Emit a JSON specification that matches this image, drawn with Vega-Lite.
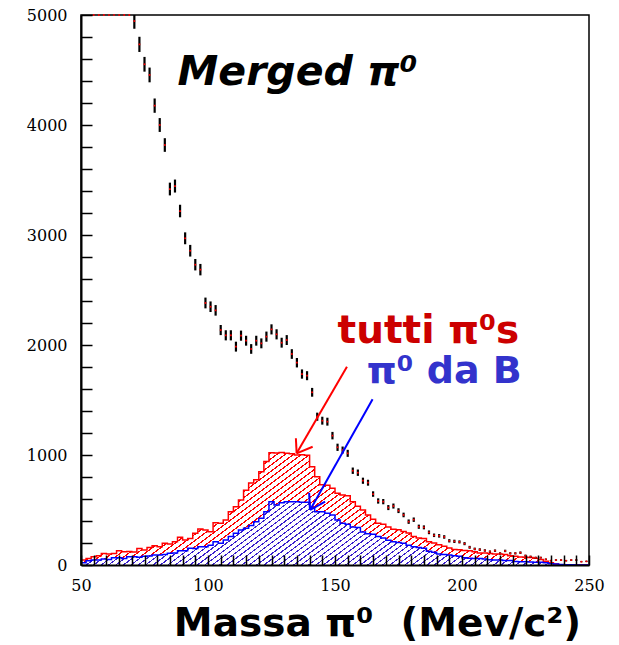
{
"$schema": "https://vega.github.io/schema/vega-lite/v6.json",
"width": 508,
"height": 550,
"autosize": "none",
"padding": {"left": 81, "top": 15, "right": 30, "bottom": 80},
"background": "white",
"config": {"view": {"stroke": "black", "strokeWidth": 1.5}},
"datasets": {
"tutti": [{"x":50,"n":45},{"x":52,"n":60},{"x":54,"n":75},{"x":56,"n":85},{"x":58,"n":105},{"x":60,"n":100},{"x":62,"n":105},{"x":64,"n":130},{"x":66,"n":120},{"x":68,"n":122},{"x":70,"n":118},{"x":72,"n":150},{"x":74,"n":136},{"x":76,"n":158},{"x":78,"n":176},{"x":80,"n":165},{"x":82,"n":197},{"x":84,"n":190},{"x":86,"n":212},{"x":88,"n":252},{"x":90,"n":228},{"x":92,"n":242},{"x":94,"n":288},{"x":96,"n":327},{"x":98,"n":318},{"x":100,"n":303},{"x":102,"n":385},{"x":104,"n":380},{"x":106,"n":409},{"x":108,"n":485},{"x":110,"n":530},{"x":112,"n":590},{"x":114,"n":680},{"x":116,"n":745},{"x":118,"n":775},{"x":120,"n":848},{"x":122,"n":940},{"x":124,"n":1020},{"x":126,"n":1018},{"x":128,"n":1022},{"x":130,"n":1015},{"x":132,"n":1012},{"x":134,"n":1000},{"x":136,"n":1002},{"x":138,"n":998},{"x":140,"n":894},{"x":142,"n":803},{"x":144,"n":730},{"x":146,"n":725},{"x":148,"n":697},{"x":150,"n":652},{"x":152,"n":636},{"x":154,"n":630},{"x":156,"n":576},{"x":158,"n":535},{"x":160,"n":500},{"x":162,"n":455},{"x":164,"n":415},{"x":166,"n":380},{"x":168,"n":370},{"x":170,"n":345},{"x":172,"n":325},{"x":174,"n":320},{"x":176,"n":305},{"x":178,"n":290},{"x":180,"n":260},{"x":182,"n":245},{"x":184,"n":240},{"x":186,"n":212},{"x":188,"n":200},{"x":190,"n":185},{"x":192,"n":170},{"x":194,"n":155},{"x":196,"n":140},{"x":198,"n":138},{"x":200,"n":132},{"x":202,"n":130},{"x":204,"n":120},{"x":206,"n":110},{"x":208,"n":108},{"x":210,"n":105},{"x":212,"n":100},{"x":214,"n":100},{"x":216,"n":95},{"x":218,"n":85},{"x":220,"n":80},{"x":222,"n":72},{"x":224,"n":70},{"x":226,"n":68},{"x":228,"n":62},{"x":230,"n":50},{"x":232,"n":35},{"x":234,"n":20},{"x":236,"n":8},{"x":238,"n":3},{"x":240,"n":0},{"x":242,"n":0},{"x":244,"n":0},{"x":246,"n":0},{"x":248,"n":0},{"x":250,"n":0}],
"daB": [{"x":50,"n":21},{"x":52,"n":39},{"x":54,"n":45},{"x":56,"n":45},{"x":58,"n":55},{"x":60,"n":50},{"x":62,"n":67},{"x":64,"n":67},{"x":66,"n":60},{"x":68,"n":76},{"x":70,"n":76},{"x":72,"n":70},{"x":74,"n":80},{"x":76,"n":82},{"x":78,"n":91},{"x":80,"n":91},{"x":82,"n":95},{"x":84,"n":106},{"x":86,"n":110},{"x":88,"n":130},{"x":90,"n":130},{"x":92,"n":152},{"x":94,"n":150},{"x":96,"n":167},{"x":98,"n":167},{"x":100,"n":180},{"x":102,"n":212},{"x":104,"n":197},{"x":106,"n":227},{"x":108,"n":258},{"x":110,"n":288},{"x":112,"n":318},{"x":114,"n":333},{"x":116,"n":360},{"x":118,"n":394},{"x":120,"n":424},{"x":122,"n":485},{"x":124,"n":576},{"x":126,"n":545},{"x":128,"n":567},{"x":130,"n":576},{"x":132,"n":576},{"x":134,"n":576},{"x":136,"n":570},{"x":138,"n":570},{"x":140,"n":515},{"x":142,"n":485},{"x":144,"n":485},{"x":146,"n":470},{"x":148,"n":455},{"x":150,"n":409},{"x":152,"n":379},{"x":154,"n":370},{"x":156,"n":345},{"x":158,"n":340},{"x":160,"n":300},{"x":162,"n":285},{"x":164,"n":280},{"x":166,"n":258},{"x":168,"n":245},{"x":170,"n":225},{"x":172,"n":212},{"x":174,"n":205},{"x":176,"n":197},{"x":178,"n":180},{"x":180,"n":167},{"x":182,"n":160},{"x":184,"n":152},{"x":186,"n":125},{"x":188,"n":115},{"x":190,"n":100},{"x":192,"n":95},{"x":194,"n":90},{"x":196,"n":85},{"x":198,"n":80},{"x":200,"n":65},{"x":202,"n":62},{"x":204,"n":60},{"x":206,"n":60},{"x":208,"n":55},{"x":210,"n":48},{"x":212,"n":45},{"x":214,"n":45},{"x":216,"n":42},{"x":218,"n":40},{"x":220,"n":32},{"x":222,"n":30},{"x":224,"n":30},{"x":226,"n":28},{"x":228,"n":25},{"x":230,"n":25},{"x":232,"n":20},{"x":234,"n":12},{"x":236,"n":8},{"x":238,"n":5},{"x":240,"n":3},{"x":242,"n":2},{"x":244,"n":1},{"x":246,"n":0},{"x":248,"n":0},{"x":250,"n":0}],
"punti": [{"x":55,"n":6900,"err":83},{"x":57,"n":6500,"err":81},{"x":59,"n":6100,"err":78},{"x":61,"n":5800,"err":76},{"x":63,"n":5550,"err":74},{"x":65,"n":5350,"err":73},{"x":67,"n":5200,"err":72},{"x":69,"n":5080,"err":71},{"x":71,"n":4945,"err":70},{"x":73,"n":4733,"err":69},{"x":75,"n":4552,"err":67},{"x":77,"n":4455,"err":67},{"x":79,"n":4176,"err":65},{"x":81,"n":4000,"err":63},{"x":83,"n":3818,"err":62},{"x":85,"n":3418,"err":58},{"x":87,"n":3445,"err":59},{"x":89,"n":3218,"err":57},{"x":91,"n":2970,"err":54},{"x":93,"n":2857,"err":53},{"x":95,"n":2730,"err":52},{"x":97,"n":2685,"err":52},{"x":99,"n":2382,"err":49},{"x":101,"n":2348,"err":48},{"x":103,"n":2315,"err":48},{"x":105,"n":2136,"err":46},{"x":107,"n":2088,"err":46},{"x":109,"n":2088,"err":46},{"x":111,"n":1985,"err":45},{"x":113,"n":2085,"err":46},{"x":115,"n":2039,"err":45},{"x":117,"n":1964,"err":44},{"x":119,"n":2039,"err":45},{"x":121,"n":2015,"err":45},{"x":123,"n":2076,"err":46},{"x":125,"n":2142,"err":46},{"x":127,"n":2097,"err":46},{"x":129,"n":2021,"err":45},{"x":131,"n":2045,"err":45},{"x":133,"n":1918,"err":44},{"x":135,"n":1839,"err":43},{"x":137,"n":1736,"err":42},{"x":139,"n":1721,"err":41},{"x":141,"n":1570,"err":40},{"x":143,"n":1348,"err":37},{"x":145,"n":1312,"err":36},{"x":147,"n":1303,"err":36},{"x":149,"n":1176,"err":34},{"x":151,"n":1070,"err":33},{"x":153,"n":1045,"err":32},{"x":155,"n":1015,"err":32},{"x":157,"n":857,"err":29},{"x":159,"n":839,"err":29},{"x":161,"n":766,"err":28},{"x":163,"n":748,"err":27},{"x":165,"n":645,"err":25},{"x":167,"n":582,"err":24},{"x":169,"n":576,"err":24},{"x":171,"n":522,"err":23},{"x":173,"n":536,"err":23},{"x":175,"n":494,"err":22},{"x":177,"n":455,"err":21},{"x":179,"n":394,"err":20},{"x":181,"n":412,"err":20},{"x":183,"n":348,"err":19},{"x":185,"n":342,"err":18},{"x":187,"n":297,"err":17},{"x":189,"n":270,"err":16},{"x":191,"n":265,"err":16},{"x":193,"n":255,"err":16},{"x":195,"n":220,"err":15},{"x":197,"n":215,"err":15},{"x":199,"n":210,"err":14},{"x":201,"n":194,"err":14},{"x":203,"n":161,"err":13},{"x":205,"n":146,"err":12},{"x":207,"n":140,"err":12},{"x":209,"n":132,"err":11},{"x":211,"n":121,"err":11},{"x":213,"n":130,"err":11},{"x":215,"n":106,"err":10},{"x":217,"n":128,"err":11},{"x":219,"n":106,"err":10},{"x":221,"n":106,"err":10},{"x":223,"n":112,"err":11},{"x":225,"n":85,"err":9},{"x":227,"n":76,"err":9},{"x":229,"n":67,"err":8},{"x":231,"n":67,"err":8},{"x":233,"n":52,"err":7},{"x":235,"n":39,"err":6},{"x":237,"n":45,"err":7},{"x":239,"n":45,"err":7},{"x":241,"n":39,"err":6},{"x":243,"n":45,"err":7},{"x":245,"n":45,"err":7},{"x":247,"n":30,"err":5},{"x":249,"n":33,"err":6}],
"frecciaRossa": [{"x":154.7,"n":1803,"x2":134.9,"n2":1015},{"x":134.9,"n":1015,"x2":134.6,"n2":1152},{"x":134.9,"n":1015,"x2":141.2,"n2":1075}],
"frecciaBlu": [{"x":164.8,"n":1506,"x2":140.2,"n2":500},{"x":140.2,"n":500,"x2":139.8,"n2":657},{"x":140.2,"n":500,"x2":146.1,"n2":576}]
},
"encoding": {
"x": {"field": "x", "type": "quantitative", "scale": {"domain": [50, 250], "nice": false, "zero": false},
 "axis": {"values": [50,55,60,65,70,75,80,85,90,95,100,105,110,115,120,125,130,135,140,145,150,155,160,165,170,175,180,185,190,195,200,205,210,215,220,225,230,235,240,245,250],
  "tickSize": -10, "ticks": true, "zindex": 1,
  "encode": {"ticks": {"update": {"y2": {"signal": "datum.value % 50 === 0 ? -10 : -5"}}}},
  "labelExpr": "datum.value % 50 === 0 ? datum.label : ''", "labelOverlap": false, "labelFlush": false,
  "labelFont": "DejaVu Serif", "labelFontSize": 16, "labelColor": "black", "labelPadding": 22,
  "domainColor": "black", "domainWidth": 2, "tickColor": "black", "tickWidth": 1.5, "grid": false,
  "title": "Massa π⁰\u00a0\u00a0(Mev/c²)", "titleFont": "DejaVu Sans", "titleFontSize": 39, "titleFontWeight": "bold", "titleColor": "black",
  "titleX": 296, "titleY": 70, "titleAlign": "center", "titleBaseline": "alphabetic"}},
"y": {"field": "n", "type": "quantitative", "scale": {"domain": [0, 5000], "nice": false, "clamp": true},
 "axis": {"values": [0,200,400,600,800,1000,1200,1400,1600,1800,2000,2200,2400,2600,2800,3000,3200,3400,3600,3800,4000,4200,4400,4600,4800,5000],
  "format": "d",
  "tickSize": -11, "ticks": true, "zindex": 1,
  "encode": {"ticks": {"update": {"x2": {"signal": "datum.value % 1000 === 0 ? 11 : 6"}}}},
  "labelExpr": "datum.value % 1000 === 0 ? datum.label : ''", "labelOverlap": false, "labelFlush": false,
  "labelFont": "DejaVu Serif", "labelFontSize": 16, "labelColor": "black", "labelPadding": 25,
  "domainColor": "black", "domainWidth": 2, "tickColor": "black", "tickWidth": 1.5, "grid": false, "title": null}}
},
"layer": [
{
"data": {"name": "tutti"},
"mark": {"type": "area", "interpolate": "step-after", "fill": {"gradient": "linear", "x1": 0, "y1": 0, "x2": 1.1913, "y2": 0.3516, "stops": [
{"offset":0,"color":"#f00"},{"offset":0.003,"color":"#f00"},{"offset":0.003,"color":"#fff"},{"offset":0.0125,"color":"#fff"},
{"offset":0.0125,"color":"#f00"},{"offset":0.0155,"color":"#f00"},{"offset":0.0155,"color":"#fff"},{"offset":0.025,"color":"#fff"},
{"offset":0.025,"color":"#f00"},{"offset":0.028,"color":"#f00"},{"offset":0.028,"color":"#fff"},{"offset":0.0375,"color":"#fff"},
{"offset":0.0375,"color":"#f00"},{"offset":0.0405,"color":"#f00"},{"offset":0.0405,"color":"#fff"},{"offset":0.05,"color":"#fff"},
{"offset":0.05,"color":"#f00"},{"offset":0.053,"color":"#f00"},{"offset":0.053,"color":"#fff"},{"offset":0.0625,"color":"#fff"},
{"offset":0.0625,"color":"#f00"},{"offset":0.0655,"color":"#f00"},{"offset":0.0655,"color":"#fff"},{"offset":0.075,"color":"#fff"},
{"offset":0.075,"color":"#f00"},{"offset":0.078,"color":"#f00"},{"offset":0.078,"color":"#fff"},{"offset":0.0875,"color":"#fff"},
{"offset":0.0875,"color":"#f00"},{"offset":0.0905,"color":"#f00"},{"offset":0.0905,"color":"#fff"},{"offset":0.1,"color":"#fff"},
{"offset":0.1,"color":"#f00"},{"offset":0.103,"color":"#f00"},{"offset":0.103,"color":"#fff"},{"offset":0.1125,"color":"#fff"},
{"offset":0.1125,"color":"#f00"},{"offset":0.1155,"color":"#f00"},{"offset":0.1155,"color":"#fff"},{"offset":0.125,"color":"#fff"},
{"offset":0.125,"color":"#f00"},{"offset":0.128,"color":"#f00"},{"offset":0.128,"color":"#fff"},{"offset":0.1375,"color":"#fff"},
{"offset":0.1375,"color":"#f00"},{"offset":0.1405,"color":"#f00"},{"offset":0.1405,"color":"#fff"},{"offset":0.15,"color":"#fff"},
{"offset":0.15,"color":"#f00"},{"offset":0.153,"color":"#f00"},{"offset":0.153,"color":"#fff"},{"offset":0.1625,"color":"#fff"},
{"offset":0.1625,"color":"#f00"},{"offset":0.1655,"color":"#f00"},{"offset":0.1655,"color":"#fff"},{"offset":0.175,"color":"#fff"},
{"offset":0.175,"color":"#f00"},{"offset":0.178,"color":"#f00"},{"offset":0.178,"color":"#fff"},{"offset":0.1875,"color":"#fff"},
{"offset":0.1875,"color":"#f00"},{"offset":0.1905,"color":"#f00"},{"offset":0.1905,"color":"#fff"},{"offset":0.2,"color":"#fff"},
{"offset":0.2,"color":"#f00"},{"offset":0.203,"color":"#f00"},{"offset":0.203,"color":"#fff"},{"offset":0.2125,"color":"#fff"},
{"offset":0.2125,"color":"#f00"},{"offset":0.2155,"color":"#f00"},{"offset":0.2155,"color":"#fff"},{"offset":0.225,"color":"#fff"},
{"offset":0.225,"color":"#f00"},{"offset":0.228,"color":"#f00"},{"offset":0.228,"color":"#fff"},{"offset":0.2375,"color":"#fff"},
{"offset":0.2375,"color":"#f00"},{"offset":0.2405,"color":"#f00"},{"offset":0.2405,"color":"#fff"},{"offset":0.25,"color":"#fff"},
{"offset":0.25,"color":"#f00"},{"offset":0.253,"color":"#f00"},{"offset":0.253,"color":"#fff"},{"offset":0.2625,"color":"#fff"},
{"offset":0.2625,"color":"#f00"},{"offset":0.2655,"color":"#f00"},{"offset":0.2655,"color":"#fff"},{"offset":0.275,"color":"#fff"},
{"offset":0.275,"color":"#f00"},{"offset":0.278,"color":"#f00"},{"offset":0.278,"color":"#fff"},{"offset":0.2875,"color":"#fff"},
{"offset":0.2875,"color":"#f00"},{"offset":0.2905,"color":"#f00"},{"offset":0.2905,"color":"#fff"},{"offset":0.3,"color":"#fff"},
{"offset":0.3,"color":"#f00"},{"offset":0.303,"color":"#f00"},{"offset":0.303,"color":"#fff"},{"offset":0.3125,"color":"#fff"},
{"offset":0.3125,"color":"#f00"},{"offset":0.3155,"color":"#f00"},{"offset":0.3155,"color":"#fff"},{"offset":0.325,"color":"#fff"},
{"offset":0.325,"color":"#f00"},{"offset":0.328,"color":"#f00"},{"offset":0.328,"color":"#fff"},{"offset":0.3375,"color":"#fff"},
{"offset":0.3375,"color":"#f00"},{"offset":0.3405,"color":"#f00"},{"offset":0.3405,"color":"#fff"},{"offset":0.35,"color":"#fff"},
{"offset":0.35,"color":"#f00"},{"offset":0.353,"color":"#f00"},{"offset":0.353,"color":"#fff"},{"offset":0.3625,"color":"#fff"},
{"offset":0.3625,"color":"#f00"},{"offset":0.3655,"color":"#f00"},{"offset":0.3655,"color":"#fff"},{"offset":0.375,"color":"#fff"},
{"offset":0.375,"color":"#f00"},{"offset":0.378,"color":"#f00"},{"offset":0.378,"color":"#fff"},{"offset":0.3875,"color":"#fff"},
{"offset":0.3875,"color":"#f00"},{"offset":0.3905,"color":"#f00"},{"offset":0.3905,"color":"#fff"},{"offset":0.4,"color":"#fff"},
{"offset":0.4,"color":"#f00"},{"offset":0.403,"color":"#f00"},{"offset":0.403,"color":"#fff"},{"offset":0.4125,"color":"#fff"},
{"offset":0.4125,"color":"#f00"},{"offset":0.4155,"color":"#f00"},{"offset":0.4155,"color":"#fff"},{"offset":0.425,"color":"#fff"},
{"offset":0.425,"color":"#f00"},{"offset":0.428,"color":"#f00"},{"offset":0.428,"color":"#fff"},{"offset":0.4375,"color":"#fff"},
{"offset":0.4375,"color":"#f00"},{"offset":0.4405,"color":"#f00"},{"offset":0.4405,"color":"#fff"},{"offset":0.45,"color":"#fff"},
{"offset":0.45,"color":"#f00"},{"offset":0.453,"color":"#f00"},{"offset":0.453,"color":"#fff"},{"offset":0.4625,"color":"#fff"},
{"offset":0.4625,"color":"#f00"},{"offset":0.4655,"color":"#f00"},{"offset":0.4655,"color":"#fff"},{"offset":0.475,"color":"#fff"},
{"offset":0.475,"color":"#f00"},{"offset":0.478,"color":"#f00"},{"offset":0.478,"color":"#fff"},{"offset":0.4875,"color":"#fff"},
{"offset":0.4875,"color":"#f00"},{"offset":0.4905,"color":"#f00"},{"offset":0.4905,"color":"#fff"},{"offset":0.5,"color":"#fff"},
{"offset":0.5,"color":"#f00"},{"offset":0.503,"color":"#f00"},{"offset":0.503,"color":"#fff"},{"offset":0.5125,"color":"#fff"},
{"offset":0.5125,"color":"#f00"},{"offset":0.5155,"color":"#f00"},{"offset":0.5155,"color":"#fff"},{"offset":0.525,"color":"#fff"},
{"offset":0.525,"color":"#f00"},{"offset":0.528,"color":"#f00"},{"offset":0.528,"color":"#fff"},{"offset":0.5375,"color":"#fff"},
{"offset":0.5375,"color":"#f00"},{"offset":0.5405,"color":"#f00"},{"offset":0.5405,"color":"#fff"},{"offset":0.55,"color":"#fff"},
{"offset":0.55,"color":"#f00"},{"offset":0.553,"color":"#f00"},{"offset":0.553,"color":"#fff"},{"offset":0.5625,"color":"#fff"},
{"offset":0.5625,"color":"#f00"},{"offset":0.5655,"color":"#f00"},{"offset":0.5655,"color":"#fff"},{"offset":0.575,"color":"#fff"},
{"offset":0.575,"color":"#f00"},{"offset":0.578,"color":"#f00"},{"offset":0.578,"color":"#fff"},{"offset":0.5875,"color":"#fff"},
{"offset":0.5875,"color":"#f00"},{"offset":0.5905,"color":"#f00"},{"offset":0.5905,"color":"#fff"},{"offset":0.6,"color":"#fff"},
{"offset":0.6,"color":"#f00"},{"offset":0.603,"color":"#f00"},{"offset":0.603,"color":"#fff"},{"offset":0.6125,"color":"#fff"},
{"offset":0.6125,"color":"#f00"},{"offset":0.6155,"color":"#f00"},{"offset":0.6155,"color":"#fff"},{"offset":0.625,"color":"#fff"},
{"offset":0.625,"color":"#f00"},{"offset":0.628,"color":"#f00"},{"offset":0.628,"color":"#fff"},{"offset":0.6375,"color":"#fff"},
{"offset":0.6375,"color":"#f00"},{"offset":0.6405,"color":"#f00"},{"offset":0.6405,"color":"#fff"},{"offset":0.65,"color":"#fff"},
{"offset":0.65,"color":"#f00"},{"offset":0.653,"color":"#f00"},{"offset":0.653,"color":"#fff"},{"offset":0.6625,"color":"#fff"},
{"offset":0.6625,"color":"#f00"},{"offset":0.6655,"color":"#f00"},{"offset":0.6655,"color":"#fff"},{"offset":0.675,"color":"#fff"},
{"offset":0.675,"color":"#f00"},{"offset":0.678,"color":"#f00"},{"offset":0.678,"color":"#fff"},{"offset":0.6875,"color":"#fff"},
{"offset":0.6875,"color":"#f00"},{"offset":0.6905,"color":"#f00"},{"offset":0.6905,"color":"#fff"},{"offset":0.7,"color":"#fff"},
{"offset":0.7,"color":"#f00"},{"offset":0.703,"color":"#f00"},{"offset":0.703,"color":"#fff"},{"offset":0.7125,"color":"#fff"},
{"offset":0.7125,"color":"#f00"},{"offset":0.7155,"color":"#f00"},{"offset":0.7155,"color":"#fff"},{"offset":0.725,"color":"#fff"},
{"offset":0.725,"color":"#f00"},{"offset":0.728,"color":"#f00"},{"offset":0.728,"color":"#fff"},{"offset":0.7375,"color":"#fff"},
{"offset":0.7375,"color":"#f00"},{"offset":0.7405,"color":"#f00"},{"offset":0.7405,"color":"#fff"},{"offset":0.75,"color":"#fff"},
{"offset":0.75,"color":"#f00"},{"offset":0.753,"color":"#f00"},{"offset":0.753,"color":"#fff"},{"offset":0.7625,"color":"#fff"},
{"offset":0.7625,"color":"#f00"},{"offset":0.7655,"color":"#f00"},{"offset":0.7655,"color":"#fff"},{"offset":0.775,"color":"#fff"},
{"offset":0.775,"color":"#f00"},{"offset":0.778,"color":"#f00"},{"offset":0.778,"color":"#fff"},{"offset":0.7875,"color":"#fff"},
{"offset":0.7875,"color":"#f00"},{"offset":0.7905,"color":"#f00"},{"offset":0.7905,"color":"#fff"},{"offset":0.8,"color":"#fff"},
{"offset":0.8,"color":"#f00"},{"offset":0.803,"color":"#f00"},{"offset":0.803,"color":"#fff"},{"offset":0.8125,"color":"#fff"},
{"offset":0.8125,"color":"#f00"},{"offset":0.8155,"color":"#f00"},{"offset":0.8155,"color":"#fff"},{"offset":0.825,"color":"#fff"},
{"offset":0.825,"color":"#f00"},{"offset":0.828,"color":"#f00"},{"offset":0.828,"color":"#fff"},{"offset":0.8375,"color":"#fff"},
{"offset":0.8375,"color":"#f00"},{"offset":0.8405,"color":"#f00"},{"offset":0.8405,"color":"#fff"},{"offset":0.85,"color":"#fff"},
{"offset":0.85,"color":"#f00"},{"offset":0.853,"color":"#f00"},{"offset":0.853,"color":"#fff"},{"offset":0.8625,"color":"#fff"},
{"offset":0.8625,"color":"#f00"},{"offset":0.8655,"color":"#f00"},{"offset":0.8655,"color":"#fff"},{"offset":0.875,"color":"#fff"},
{"offset":0.875,"color":"#f00"},{"offset":0.878,"color":"#f00"},{"offset":0.878,"color":"#fff"},{"offset":0.8875,"color":"#fff"},
{"offset":0.8875,"color":"#f00"},{"offset":0.8905,"color":"#f00"},{"offset":0.8905,"color":"#fff"},{"offset":0.9,"color":"#fff"},
{"offset":0.9,"color":"#f00"},{"offset":0.903,"color":"#f00"},{"offset":0.903,"color":"#fff"},{"offset":0.9125,"color":"#fff"},
{"offset":0.9125,"color":"#f00"},{"offset":0.9155,"color":"#f00"},{"offset":0.9155,"color":"#fff"},{"offset":0.925,"color":"#fff"},
{"offset":0.925,"color":"#f00"},{"offset":0.928,"color":"#f00"},{"offset":0.928,"color":"#fff"},{"offset":0.9375,"color":"#fff"},
{"offset":0.9375,"color":"#f00"},{"offset":0.9405,"color":"#f00"},{"offset":0.9405,"color":"#fff"},{"offset":0.95,"color":"#fff"},
{"offset":0.95,"color":"#f00"},{"offset":0.953,"color":"#f00"},{"offset":0.953,"color":"#fff"},{"offset":0.9625,"color":"#fff"},
{"offset":0.9625,"color":"#f00"},{"offset":0.9655,"color":"#f00"},{"offset":0.9655,"color":"#fff"},{"offset":0.975,"color":"#fff"},
{"offset":0.975,"color":"#f00"},{"offset":0.978,"color":"#f00"},{"offset":0.978,"color":"#fff"},{"offset":0.9875,"color":"#fff"},
{"offset":0.9875,"color":"#f00"},{"offset":0.9905,"color":"#f00"},{"offset":0.9905,"color":"#fff"},{"offset":1,"color":"#fff"}
]}}
},
{
"data": {"name": "daB"},
"mark": {"type": "area", "interpolate": "step-after", "fill": {"gradient": "linear", "x1": 0, "y1": 0, "x2": 1.1349, "y2": 0.1887, "stops": [
{"offset":0,"color":"#3a1fcc"},{"offset":0.003,"color":"#3a1fcc"},{"offset":0.003,"color":"#fff"},{"offset":0.0125,"color":"#fff"},
{"offset":0.0125,"color":"#3a1fcc"},{"offset":0.0155,"color":"#3a1fcc"},{"offset":0.0155,"color":"#fff"},{"offset":0.025,"color":"#fff"},
{"offset":0.025,"color":"#3a1fcc"},{"offset":0.028,"color":"#3a1fcc"},{"offset":0.028,"color":"#fff"},{"offset":0.0375,"color":"#fff"},
{"offset":0.0375,"color":"#3a1fcc"},{"offset":0.0405,"color":"#3a1fcc"},{"offset":0.0405,"color":"#fff"},{"offset":0.05,"color":"#fff"},
{"offset":0.05,"color":"#3a1fcc"},{"offset":0.053,"color":"#3a1fcc"},{"offset":0.053,"color":"#fff"},{"offset":0.0625,"color":"#fff"},
{"offset":0.0625,"color":"#3a1fcc"},{"offset":0.0655,"color":"#3a1fcc"},{"offset":0.0655,"color":"#fff"},{"offset":0.075,"color":"#fff"},
{"offset":0.075,"color":"#3a1fcc"},{"offset":0.078,"color":"#3a1fcc"},{"offset":0.078,"color":"#fff"},{"offset":0.0875,"color":"#fff"},
{"offset":0.0875,"color":"#3a1fcc"},{"offset":0.0905,"color":"#3a1fcc"},{"offset":0.0905,"color":"#fff"},{"offset":0.1,"color":"#fff"},
{"offset":0.1,"color":"#3a1fcc"},{"offset":0.103,"color":"#3a1fcc"},{"offset":0.103,"color":"#fff"},{"offset":0.1125,"color":"#fff"},
{"offset":0.1125,"color":"#3a1fcc"},{"offset":0.1155,"color":"#3a1fcc"},{"offset":0.1155,"color":"#fff"},{"offset":0.125,"color":"#fff"},
{"offset":0.125,"color":"#3a1fcc"},{"offset":0.128,"color":"#3a1fcc"},{"offset":0.128,"color":"#fff"},{"offset":0.1375,"color":"#fff"},
{"offset":0.1375,"color":"#3a1fcc"},{"offset":0.1405,"color":"#3a1fcc"},{"offset":0.1405,"color":"#fff"},{"offset":0.15,"color":"#fff"},
{"offset":0.15,"color":"#3a1fcc"},{"offset":0.153,"color":"#3a1fcc"},{"offset":0.153,"color":"#fff"},{"offset":0.1625,"color":"#fff"},
{"offset":0.1625,"color":"#3a1fcc"},{"offset":0.1655,"color":"#3a1fcc"},{"offset":0.1655,"color":"#fff"},{"offset":0.175,"color":"#fff"},
{"offset":0.175,"color":"#3a1fcc"},{"offset":0.178,"color":"#3a1fcc"},{"offset":0.178,"color":"#fff"},{"offset":0.1875,"color":"#fff"},
{"offset":0.1875,"color":"#3a1fcc"},{"offset":0.1905,"color":"#3a1fcc"},{"offset":0.1905,"color":"#fff"},{"offset":0.2,"color":"#fff"},
{"offset":0.2,"color":"#3a1fcc"},{"offset":0.203,"color":"#3a1fcc"},{"offset":0.203,"color":"#fff"},{"offset":0.2125,"color":"#fff"},
{"offset":0.2125,"color":"#3a1fcc"},{"offset":0.2155,"color":"#3a1fcc"},{"offset":0.2155,"color":"#fff"},{"offset":0.225,"color":"#fff"},
{"offset":0.225,"color":"#3a1fcc"},{"offset":0.228,"color":"#3a1fcc"},{"offset":0.228,"color":"#fff"},{"offset":0.2375,"color":"#fff"},
{"offset":0.2375,"color":"#3a1fcc"},{"offset":0.2405,"color":"#3a1fcc"},{"offset":0.2405,"color":"#fff"},{"offset":0.25,"color":"#fff"},
{"offset":0.25,"color":"#3a1fcc"},{"offset":0.253,"color":"#3a1fcc"},{"offset":0.253,"color":"#fff"},{"offset":0.2625,"color":"#fff"},
{"offset":0.2625,"color":"#3a1fcc"},{"offset":0.2655,"color":"#3a1fcc"},{"offset":0.2655,"color":"#fff"},{"offset":0.275,"color":"#fff"},
{"offset":0.275,"color":"#3a1fcc"},{"offset":0.278,"color":"#3a1fcc"},{"offset":0.278,"color":"#fff"},{"offset":0.2875,"color":"#fff"},
{"offset":0.2875,"color":"#3a1fcc"},{"offset":0.2905,"color":"#3a1fcc"},{"offset":0.2905,"color":"#fff"},{"offset":0.3,"color":"#fff"},
{"offset":0.3,"color":"#3a1fcc"},{"offset":0.303,"color":"#3a1fcc"},{"offset":0.303,"color":"#fff"},{"offset":0.3125,"color":"#fff"},
{"offset":0.3125,"color":"#3a1fcc"},{"offset":0.3155,"color":"#3a1fcc"},{"offset":0.3155,"color":"#fff"},{"offset":0.325,"color":"#fff"},
{"offset":0.325,"color":"#3a1fcc"},{"offset":0.328,"color":"#3a1fcc"},{"offset":0.328,"color":"#fff"},{"offset":0.3375,"color":"#fff"},
{"offset":0.3375,"color":"#3a1fcc"},{"offset":0.3405,"color":"#3a1fcc"},{"offset":0.3405,"color":"#fff"},{"offset":0.35,"color":"#fff"},
{"offset":0.35,"color":"#3a1fcc"},{"offset":0.353,"color":"#3a1fcc"},{"offset":0.353,"color":"#fff"},{"offset":0.3625,"color":"#fff"},
{"offset":0.3625,"color":"#3a1fcc"},{"offset":0.3655,"color":"#3a1fcc"},{"offset":0.3655,"color":"#fff"},{"offset":0.375,"color":"#fff"},
{"offset":0.375,"color":"#3a1fcc"},{"offset":0.378,"color":"#3a1fcc"},{"offset":0.378,"color":"#fff"},{"offset":0.3875,"color":"#fff"},
{"offset":0.3875,"color":"#3a1fcc"},{"offset":0.3905,"color":"#3a1fcc"},{"offset":0.3905,"color":"#fff"},{"offset":0.4,"color":"#fff"},
{"offset":0.4,"color":"#3a1fcc"},{"offset":0.403,"color":"#3a1fcc"},{"offset":0.403,"color":"#fff"},{"offset":0.4125,"color":"#fff"},
{"offset":0.4125,"color":"#3a1fcc"},{"offset":0.4155,"color":"#3a1fcc"},{"offset":0.4155,"color":"#fff"},{"offset":0.425,"color":"#fff"},
{"offset":0.425,"color":"#3a1fcc"},{"offset":0.428,"color":"#3a1fcc"},{"offset":0.428,"color":"#fff"},{"offset":0.4375,"color":"#fff"},
{"offset":0.4375,"color":"#3a1fcc"},{"offset":0.4405,"color":"#3a1fcc"},{"offset":0.4405,"color":"#fff"},{"offset":0.45,"color":"#fff"},
{"offset":0.45,"color":"#3a1fcc"},{"offset":0.453,"color":"#3a1fcc"},{"offset":0.453,"color":"#fff"},{"offset":0.4625,"color":"#fff"},
{"offset":0.4625,"color":"#3a1fcc"},{"offset":0.4655,"color":"#3a1fcc"},{"offset":0.4655,"color":"#fff"},{"offset":0.475,"color":"#fff"},
{"offset":0.475,"color":"#3a1fcc"},{"offset":0.478,"color":"#3a1fcc"},{"offset":0.478,"color":"#fff"},{"offset":0.4875,"color":"#fff"},
{"offset":0.4875,"color":"#3a1fcc"},{"offset":0.4905,"color":"#3a1fcc"},{"offset":0.4905,"color":"#fff"},{"offset":0.5,"color":"#fff"},
{"offset":0.5,"color":"#3a1fcc"},{"offset":0.503,"color":"#3a1fcc"},{"offset":0.503,"color":"#fff"},{"offset":0.5125,"color":"#fff"},
{"offset":0.5125,"color":"#3a1fcc"},{"offset":0.5155,"color":"#3a1fcc"},{"offset":0.5155,"color":"#fff"},{"offset":0.525,"color":"#fff"},
{"offset":0.525,"color":"#3a1fcc"},{"offset":0.528,"color":"#3a1fcc"},{"offset":0.528,"color":"#fff"},{"offset":0.5375,"color":"#fff"},
{"offset":0.5375,"color":"#3a1fcc"},{"offset":0.5405,"color":"#3a1fcc"},{"offset":0.5405,"color":"#fff"},{"offset":0.55,"color":"#fff"},
{"offset":0.55,"color":"#3a1fcc"},{"offset":0.553,"color":"#3a1fcc"},{"offset":0.553,"color":"#fff"},{"offset":0.5625,"color":"#fff"},
{"offset":0.5625,"color":"#3a1fcc"},{"offset":0.5655,"color":"#3a1fcc"},{"offset":0.5655,"color":"#fff"},{"offset":0.575,"color":"#fff"},
{"offset":0.575,"color":"#3a1fcc"},{"offset":0.578,"color":"#3a1fcc"},{"offset":0.578,"color":"#fff"},{"offset":0.5875,"color":"#fff"},
{"offset":0.5875,"color":"#3a1fcc"},{"offset":0.5905,"color":"#3a1fcc"},{"offset":0.5905,"color":"#fff"},{"offset":0.6,"color":"#fff"},
{"offset":0.6,"color":"#3a1fcc"},{"offset":0.603,"color":"#3a1fcc"},{"offset":0.603,"color":"#fff"},{"offset":0.6125,"color":"#fff"},
{"offset":0.6125,"color":"#3a1fcc"},{"offset":0.6155,"color":"#3a1fcc"},{"offset":0.6155,"color":"#fff"},{"offset":0.625,"color":"#fff"},
{"offset":0.625,"color":"#3a1fcc"},{"offset":0.628,"color":"#3a1fcc"},{"offset":0.628,"color":"#fff"},{"offset":0.6375,"color":"#fff"},
{"offset":0.6375,"color":"#3a1fcc"},{"offset":0.6405,"color":"#3a1fcc"},{"offset":0.6405,"color":"#fff"},{"offset":0.65,"color":"#fff"},
{"offset":0.65,"color":"#3a1fcc"},{"offset":0.653,"color":"#3a1fcc"},{"offset":0.653,"color":"#fff"},{"offset":0.6625,"color":"#fff"},
{"offset":0.6625,"color":"#3a1fcc"},{"offset":0.6655,"color":"#3a1fcc"},{"offset":0.6655,"color":"#fff"},{"offset":0.675,"color":"#fff"},
{"offset":0.675,"color":"#3a1fcc"},{"offset":0.678,"color":"#3a1fcc"},{"offset":0.678,"color":"#fff"},{"offset":0.6875,"color":"#fff"},
{"offset":0.6875,"color":"#3a1fcc"},{"offset":0.6905,"color":"#3a1fcc"},{"offset":0.6905,"color":"#fff"},{"offset":0.7,"color":"#fff"},
{"offset":0.7,"color":"#3a1fcc"},{"offset":0.703,"color":"#3a1fcc"},{"offset":0.703,"color":"#fff"},{"offset":0.7125,"color":"#fff"},
{"offset":0.7125,"color":"#3a1fcc"},{"offset":0.7155,"color":"#3a1fcc"},{"offset":0.7155,"color":"#fff"},{"offset":0.725,"color":"#fff"},
{"offset":0.725,"color":"#3a1fcc"},{"offset":0.728,"color":"#3a1fcc"},{"offset":0.728,"color":"#fff"},{"offset":0.7375,"color":"#fff"},
{"offset":0.7375,"color":"#3a1fcc"},{"offset":0.7405,"color":"#3a1fcc"},{"offset":0.7405,"color":"#fff"},{"offset":0.75,"color":"#fff"},
{"offset":0.75,"color":"#3a1fcc"},{"offset":0.753,"color":"#3a1fcc"},{"offset":0.753,"color":"#fff"},{"offset":0.7625,"color":"#fff"},
{"offset":0.7625,"color":"#3a1fcc"},{"offset":0.7655,"color":"#3a1fcc"},{"offset":0.7655,"color":"#fff"},{"offset":0.775,"color":"#fff"},
{"offset":0.775,"color":"#3a1fcc"},{"offset":0.778,"color":"#3a1fcc"},{"offset":0.778,"color":"#fff"},{"offset":0.7875,"color":"#fff"},
{"offset":0.7875,"color":"#3a1fcc"},{"offset":0.7905,"color":"#3a1fcc"},{"offset":0.7905,"color":"#fff"},{"offset":0.8,"color":"#fff"},
{"offset":0.8,"color":"#3a1fcc"},{"offset":0.803,"color":"#3a1fcc"},{"offset":0.803,"color":"#fff"},{"offset":0.8125,"color":"#fff"},
{"offset":0.8125,"color":"#3a1fcc"},{"offset":0.8155,"color":"#3a1fcc"},{"offset":0.8155,"color":"#fff"},{"offset":0.825,"color":"#fff"},
{"offset":0.825,"color":"#3a1fcc"},{"offset":0.828,"color":"#3a1fcc"},{"offset":0.828,"color":"#fff"},{"offset":0.8375,"color":"#fff"},
{"offset":0.8375,"color":"#3a1fcc"},{"offset":0.8405,"color":"#3a1fcc"},{"offset":0.8405,"color":"#fff"},{"offset":0.85,"color":"#fff"},
{"offset":0.85,"color":"#3a1fcc"},{"offset":0.853,"color":"#3a1fcc"},{"offset":0.853,"color":"#fff"},{"offset":0.8625,"color":"#fff"},
{"offset":0.8625,"color":"#3a1fcc"},{"offset":0.8655,"color":"#3a1fcc"},{"offset":0.8655,"color":"#fff"},{"offset":0.875,"color":"#fff"},
{"offset":0.875,"color":"#3a1fcc"},{"offset":0.878,"color":"#3a1fcc"},{"offset":0.878,"color":"#fff"},{"offset":0.8875,"color":"#fff"},
{"offset":0.8875,"color":"#3a1fcc"},{"offset":0.8905,"color":"#3a1fcc"},{"offset":0.8905,"color":"#fff"},{"offset":0.9,"color":"#fff"},
{"offset":0.9,"color":"#3a1fcc"},{"offset":0.903,"color":"#3a1fcc"},{"offset":0.903,"color":"#fff"},{"offset":0.9125,"color":"#fff"},
{"offset":0.9125,"color":"#3a1fcc"},{"offset":0.9155,"color":"#3a1fcc"},{"offset":0.9155,"color":"#fff"},{"offset":0.925,"color":"#fff"},
{"offset":0.925,"color":"#3a1fcc"},{"offset":0.928,"color":"#3a1fcc"},{"offset":0.928,"color":"#fff"},{"offset":0.9375,"color":"#fff"},
{"offset":0.9375,"color":"#3a1fcc"},{"offset":0.9405,"color":"#3a1fcc"},{"offset":0.9405,"color":"#fff"},{"offset":0.95,"color":"#fff"},
{"offset":0.95,"color":"#3a1fcc"},{"offset":0.953,"color":"#3a1fcc"},{"offset":0.953,"color":"#fff"},{"offset":0.9625,"color":"#fff"},
{"offset":0.9625,"color":"#3a1fcc"},{"offset":0.9655,"color":"#3a1fcc"},{"offset":0.9655,"color":"#fff"},{"offset":0.975,"color":"#fff"},
{"offset":0.975,"color":"#3a1fcc"},{"offset":0.978,"color":"#3a1fcc"},{"offset":0.978,"color":"#fff"},{"offset":0.9875,"color":"#fff"},
{"offset":0.9875,"color":"#3a1fcc"},{"offset":0.9905,"color":"#3a1fcc"},{"offset":0.9905,"color":"#fff"},{"offset":1,"color":"#fff"}
]}}
},
{
"data": {"name": "tutti"},
"mark": {"type": "line", "interpolate": "step-after", "color": "#ff0000", "strokeWidth": 1.5}
},
{
"data": {"name": "daB"},
"mark": {"type": "line", "interpolate": "step-after", "color": "#0000ff", "strokeWidth": 1.5}
},
{
"data": {"name": "punti"},
"mark": {"type": "errorbar", "color": "black", "rule": {"strokeWidth": 2.2}},
"encoding": {"yError": {"field": "err"}}
},
{
"data": {"name": "punti"},
"mark": {"type": "square", "color": "#ff0000", "size": 3, "opacity": 1}
},
{
"data": {"name": "frecciaRossa"},
"mark": {"type": "rule", "color": "#ff0000", "strokeWidth": 2},
"encoding": {"x2": {"field": "x2"}, "y2": {"field": "n2"}}
},
{
"data": {"name": "frecciaBlu"},
"mark": {"type": "rule", "color": "#0000ff", "strokeWidth": 2},
"encoding": {"x2": {"field": "x2"}, "y2": {"field": "n2"}}
},
{
"data": {"values": [{"t": "Merged π⁰", "x": 88, "n": 4364}]},
"mark": {"type": "text", "font": "DejaVu Sans", "fontSize": 41, "fontWeight": "bold", "fontStyle": "italic", "align": "left", "baseline": "alphabetic", "color": "black"},
"encoding": {"text": {"field": "t"}}
},
{
"data": {"values": [{"t": "tutti π⁰s", "x": 151.0, "n": 2018}]},
"mark": {"type": "text", "font": "DejaVu Sans", "fontSize": 39, "fontWeight": "bold", "align": "left", "baseline": "alphabetic", "color": "#cc0000"},
"encoding": {"text": {"field": "t"}}
},
{
"data": {"values": [{"t": "π⁰ da B", "x": 162.5, "n": 1655}]},
"mark": {"type": "text", "font": "DejaVu Sans", "fontSize": 38, "fontWeight": "bold", "align": "left", "baseline": "alphabetic", "color": "#3333cc"},
"encoding": {"text": {"field": "t"}}
}
]
}
